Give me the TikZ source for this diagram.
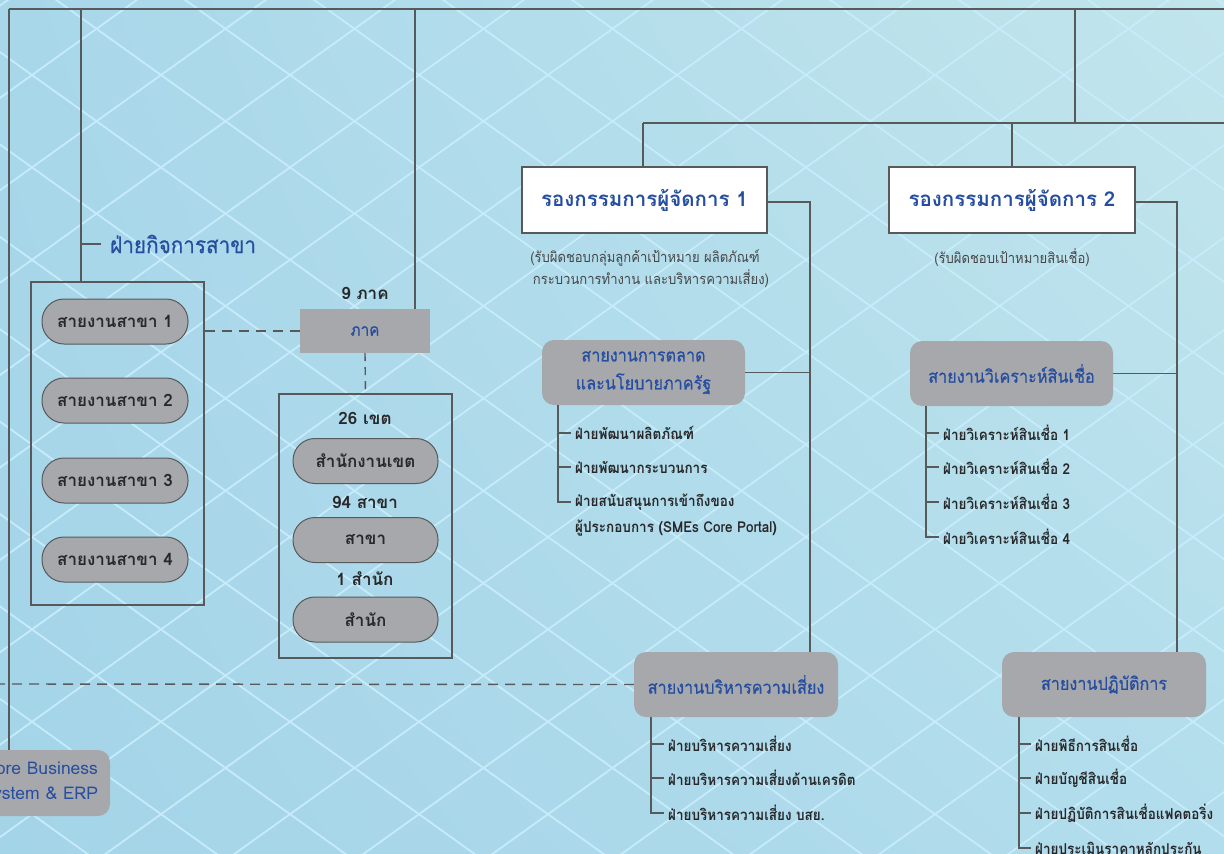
\documentclass[tikz,border=0pt]{standalone}
\usepackage{fontspec}
\setmainfont[Script=Thai]{Loma}
\newfontfamily\cond[Script=Thai, FakeStretch=0.9]{Loma}
\newfontfamily\titlef[Script=Thai, FakeStretch=0.9, FakeBold=0.6]{Loma}
\usetikzlibrary{shadings}
\definecolor{bgUL}{RGB}{168,215,234}
\definecolor{bgUR}{RGB}{194,229,236}
\definecolor{bgLL}{RGB}{164,212,232}
\definecolor{bgLR}{RGB}{178,221,236}
\definecolor{latt}{RGB}{198,235,250}
\definecolor{lnc}{RGB}{88,89,91}
\definecolor{boxg}{RGB}{167,168,172}
\definecolor{tblue}{RGB}{38,78,160}
\definecolor{tdark}{RGB}{40,40,42}
\definecolor{tdesc}{RGB}{70,70,72}
\tikzset{
  ln/.style={draw=lnc, line width=1.7pt},
  tln/.style={draw=lnc, line width=1.3pt},
  dln/.style={draw=lnc, line width=1.4pt, dash pattern=on 10pt off 7pt},
  frame/.style={draw=lnc, line width=1.2pt},
  hdr/.style={draw=lnc, fill=white, line width=1.3pt, minimum width=245pt, minimum height=66pt,
    font=\fontsize{20.5}{24}\selectfont\bfseries, text=tblue, inner sep=0pt},
  gbox/.style={fill=boxg, rounded corners=12pt, minimum width=203pt, minimum height=65pt,
    text=tblue, font=\titlef\fontsize{18}{28}\selectfont, align=center, inner sep=0pt},
  pill/.style={fill=boxg, draw=lnc, line width=1pt, rounded corners=22pt, minimum width=146pt,
    minimum height=45pt, text=tdark, font=\fontsize{17}{20}\selectfont\bfseries, inner sep=0pt},
  item/.style={anchor=west, text=tdark, font=\cond\fontsize{15}{18}\selectfont\bfseries, inner xsep=4pt, inner ysep=0pt},
  cnt/.style={text=tdark, font=\fontsize{17}{20}\selectfont\bfseries, inner sep=0pt},
  desc/.style={text=tdesc, font=\cond\fontsize{14.5}{22}\selectfont, align=center, inner sep=0pt}
}
\begin{document}
\begin{tikzpicture}[x=1pt,y=-1pt]
\useasboundingbox (0,0) rectangle (1224,854);
\begin{scope}
\clip (0,0) rectangle (1224,854);
\shade[upper left=bgUL, upper right=bgUR, lower left=bgLL, lower right=bgLR] (0,0) rectangle (1224,854);
\foreach \m in {-10,...,19}{
  \draw[latt, line width=1.8pt] ({32+129*\m-1200},{75-859.5}) -- ({32+129*\m+1200},{75+859.5});
  \draw[latt, line width=1.8pt] ({32+129*\m-1200},{75+859.5}) -- ({32+129*\m+1200},{75-859.5});
}

% top level boxes
\node[hdr] (rm1) at (644.5,200) {รองกรรมการผู้จัดการ 1};
\node[hdr, minimum width=246pt] (rm2) at (1012,200) {รองกรรมการผู้จัดการ 2};
\node[desc] (d1) at (645,269) {(รับผิดชอบกลุ่มลูกค้าเป้าหมาย ผลิตภัณฑ์\\\hspace*{12pt}กระบวนการทำงาน และบริหารความเสี่ยง)};
\node[desc] (d2) at (1012,258) {(รับผิดชอบเป้าหมายสินเชื่อ)};

\node[gbox] (mkt) at (643.5,372.5) {สายงานการตลาด\\และนโยบายภาครัฐ};
\node[gbox] (ana) at (1011.5,373.5) {สายงานวิเคราะห์สินเชื่อ};
\node[gbox, minimum width=204pt] (risk) at (736,684.5) {สายงานบริหารความเสี่ยง};
\node[gbox, minimum width=204pt] (ops) at (1104,684.5) {สายงานปฏิบัติการ};
\node[gbox, minimum width=180pt, minimum height=66pt, text width=156pt, align=right,
  inner xsep=12pt, font=\fontsize{17.5}{25}\selectfont] (core) at (20,783) {Core Business\\System \& ERP};

% branch side
\node[anchor=west, text=tblue, font=\titlef\fontsize{23}{26}\selectfont, inner sep=0pt] (brl) at (110,244) {ฝ่ายกิจการสาขา};
\node[frame, minimum width=173pt, minimum height=323pt] (brbox) at (117.5,443.5) {};
\node[pill] (b1) at (115,321.5) {สายงานสาขา 1};
\node[pill] (b2) at (115,400.5) {สายงานสาขา 2};
\node[pill] (b3) at (115,480.5) {สายงานสาขา 3};
\node[pill] (b4) at (115,559.5) {สายงานสาขา 4};

\node[cnt] (n9) at (365,293) {9 ภาค};
\node[fill=boxg, minimum width=130pt, minimum height=44pt, inner sep=0pt, text=tblue,
  font=\titlef\fontsize{17}{20}\selectfont] (pak) at (365,331) {ภาค};
\node[frame, minimum width=173pt, minimum height=264pt] (zone) at (365.5,526) {};
\node[cnt] (n26) at (365,418) {26 เขต};
\node[pill, minimum width=145pt] (z1) at (365.5,461) {สำนักงานเขต};
\node[cnt] (n94) at (365,502) {94 สาขา};
\node[pill, minimum width=145pt] (z2) at (365.5,540) {สาขา};
\node[cnt] (n1) at (365,579) {1 สำนัก};
\node[pill, minimum width=145pt] (z3) at (365.5,619.5) {สำนัก};

% list items
\node[item] (m1) at (571,433) {ฝ่ายพัฒนาผลิตภัณฑ์};
\node[item] (m2) at (571,467) {ฝ่ายพัฒนากระบวนการ};
\node[item] (m3) at (571,502) {ฝ่ายสนับสนุนการเข้าถึงของ};
\node[item] (m3b) at (571,528) {ผู้ประกอบการ (SMEs Core Portal)};

\node[item] (a1) at (939,433) {ฝ่ายวิเคราะห์สินเชื่อ 1};
\node[item] (a2) at (939,467) {ฝ่ายวิเคราะห์สินเชื่อ 2};
\node[item] (a3) at (939,502) {ฝ่ายวิเคราะห์สินเชื่อ 3};
\node[item] (a4) at (939,537) {ฝ่ายวิเคราะห์สินเชื่อ 4};

\node[item] (r1) at (664,744) {ฝ่ายบริหารความเสี่ยง};
\node[item] (r2) at (664,778) {ฝ่ายบริหารความเสี่ยงด้านเครดิต};
\node[item] (r3) at (664,813) {ฝ่ายบริหารความเสี่ยง บสย.};

\node[item] (o1) at (1031,744) {ฝ่ายพิธีการสินเชื่อ};
\node[item] (o2) at (1031,778) {ฝ่ายบัญชีสินเชื่อ};
\node[item] (o3) at (1031,813) {ฝ่ายปฏิบัติการสินเชื่อแฟคตอริ่ง};
\node[item] (o4) at (1031,848) {ฝ่ายประเมินราคาหลักประกัน};

% connectors
\coordinate (t1) at (9,9);
\coordinate (tR) at (1234,9);
\coordinate (t2) at (81,9);
\coordinate (t3) at (415,9);
\coordinate (t4) at (1075,9);
\coordinate (hL) at (643,123);
\coordinate (hR) at (1234,123);
\coordinate (v1) at (810,200);
\coordinate (v2) at (1177,200);
\coordinate (dl) at (-5,684);
\coordinate (mx) at (558,0);
\coordinate (ax) at (926,0);
\coordinate (rx) at (651,0);
\coordinate (ox) at (1019,0);

\draw[ln] (t1) -- (tR);
\draw[ln] (t1) -- (t1 |- core.north);
\draw[ln] (t2) -- (t2 |- brbox.north);
\draw[ln] (t3) -- (t3 |- pak.north);
\draw[ln] (t4) -- (t4 |- hR);
\draw[ln] (hL) -- (hR);
\draw[ln] (hL) -- (hL |- rm1.north);
\draw[ln] (rm2.north |- hR) -- (rm2.north);
\draw[ln] ([yshift=-2pt]rm1.east) -| (v1 |- risk.north);
\draw[ln] (mkt.east) -- (v1 |- mkt.east);
\draw[ln] ([yshift=-2pt]rm2.east) -| (v2 |- ops.north);
\draw[ln] (ana.east) -- (v2 |- ana.east);
\draw[ln] (t2 |- brl.west) -- ([xshift=-9pt]brl.west);

\draw[dln] (brbox.east |- pak.west) -- (pak.west);
\draw[dln, dash pattern=on 8pt off 6pt] (pak.south) -- (zone.north);
\draw[dln] (dl) -- (risk.west);

\draw[tln] (mx |- mkt.south) |- (m3.west);
\draw[tln] (mx |- m1.west) -- (m1.west);
\draw[tln] (mx |- m2.west) -- (m2.west);

\draw[tln] (ax |- ana.south) |- (a4.west);
\draw[tln] (ax |- a1.west) -- (a1.west);
\draw[tln] (ax |- a2.west) -- (a2.west);
\draw[tln] (ax |- a3.west) -- (a3.west);

\draw[tln] (rx |- risk.south) |- (r3.west);
\draw[tln] (rx |- r1.west) -- (r1.west);
\draw[tln] (rx |- r2.west) -- (r2.west);

\draw[tln] (ox |- ops.south) |- (o4.west);
\draw[tln] (ox |- o1.west) -- (o1.west);
\draw[tln] (ox |- o2.west) -- (o2.west);
\draw[tln] (ox |- o3.west) -- (o3.west);
\end{scope}
\end{tikzpicture}
\end{document}
